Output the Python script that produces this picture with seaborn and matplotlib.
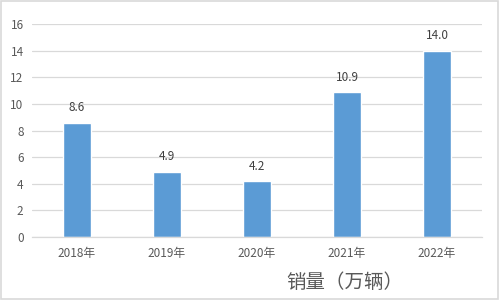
import matplotlib
matplotlib.use("Agg")
import matplotlib.pyplot as plt
import seaborn as sns
import pandas as pd
from matplotlib.patches import Rectangle

categories = ["2018年", "2019年", "2020年", "2021年", "2022年"]
values = [8.6, 4.9, 4.2, 10.9, 14.0]
y_ticks = [0, 2, 4, 6, 8, 10, 12, 14, 16]
title = "销量（万辆）"

sns.set_theme(style="white")
plt.rcParams['font.family'] = ['Noto Sans CJK SC', 'DejaVu Sans']

df = pd.DataFrame({"year": categories, "sales": values})

fig = plt.figure(figsize=(4.99, 3.0), dpi=100)
ax = fig.add_axes([0.064, 0.21, 0.902, 0.71])
sns.barplot(data=df, x="year", y="sales", color="#5B9BD5", width=0.31,
            saturation=1, ax=ax)

ax.set_ylim(0, 16)
ax.set_yticks(y_ticks)
ax.set_xlim(-0.5, len(categories) - 0.5)
ax.yaxis.grid(True, color="#D9D9D9", linewidth=0.9)
ax.set_axisbelow(True)
for s in ["top", "right", "left"]:
    ax.spines[s].set_visible(False)
ax.spines["bottom"].set_color("#D9D9D9")
ax.spines["bottom"].set_linewidth(0.9)
ax.tick_params(axis="both", length=0, colors="#595959", labelsize=8.5)
ax.tick_params(axis="x", pad=7)
ax.tick_params(axis="y", pad=6)
ax.set_xlabel("")
ax.set_ylabel("")

for container in ax.containers:
    ax.bar_label(container, labels=[f"{v:.1f}" for v in values],
                 padding=6, color="#404040", fontsize=8.5)

fig.text(0.69, 0.06, title, ha="center", va="center", fontsize=14, color="#595959")

fig.patches.append(Rectangle((0.002, 0.003), 0.996, 0.994, transform=fig.transFigure,
                             fill=False, edgecolor="#D9D9D9", linewidth=1.2))

fig.savefig("out.png", dpi=100)
